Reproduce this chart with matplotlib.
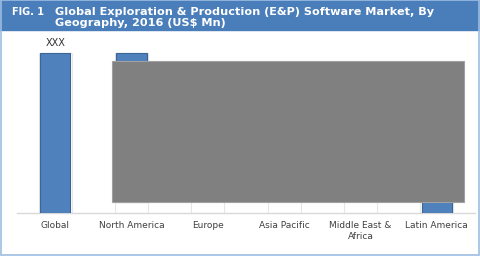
import matplotlib
matplotlib.use("Agg")
import matplotlib.pyplot as plt
from matplotlib.patches import Rectangle

regions = ['Global', 'North America', 'Europe', 'Asia Pacific', 'Middle East &\nAfrica', 'Latin America']
# values are masked in the source; estimated from visible bar tops
values = [100, 100, 60, 50, 35, 40]
# blue fill starts from this value (0 = full bar); NA is only blue above the mask
blue_from = [0, 6.9, None, None, None, 0]
top_label = 'XXX'

fig = plt.figure(figsize=(4.8, 2.56), dpi=100)
W, H = 480, 256

def fbox(x0, y0, x1, y1):
    # pixel box (top-left origin) -> figure fraction
    return (x0 / W, 1 - y1 / H, (x1 - x0) / W, (y1 - y0) / H)

# header band
l, b, w, h = fbox(0, 0, W, 30)
fig.patches.append(Rectangle((l, b), w, h, transform=fig.transFigure, color='#4a7ebb', zorder=0))
fig.text(12 / W, 1 - 12 / H, 'FIG. 1', color='white', fontsize=7, fontweight='bold', va='center')
fig.text(55 / W, 1 - 17.5 / H, 'Global Exploration & Production (E&P) Software Market, By\nGeography, 2016 (US$ Mn)',
         color='white', fontsize=8.1, fontweight='bold', va='center', linespacing=1.1)

# outer border
l, b, w, h = fbox(1, 0, 478.5, 254.5)
fig.patches.append(Rectangle((l, b), w, h, transform=fig.transFigure, fill=False,
                             edgecolor='#9dbde3', lw=1.2, zorder=0))

ax = fig.add_axes(fbox(17, 35, 475, 213))
xs = list(range(len(regions)))
for x, v, bf in zip(xs, values, blue_from):
    ax.bar(x, v, width=0.43, color='white', edgecolor='#e6e6e6', lw=0.8, zorder=2)
    if bf is not None:
        ax.bar(x, v - bf, bottom=bf, width=0.4, color='#4f81bd', edgecolor='#3b6593', lw=0.8, zorder=3)
ax.text(0, values[0] + 3, top_label, ha='center', va='bottom', fontsize=7, color='#333333')

ax.set_xlim(-0.5, len(regions) - 0.5)
ax.set_ylim(0, 111.25)
ax.set_xticks(xs)
ax.set_xticklabels(regions, fontsize=6.5, color='#404040', linespacing=1.3)
ax.tick_params(axis='x', length=0, pad=6)
ax.set_yticks([])
for s in ['top', 'left', 'right']:
    ax.spines[s].set_visible(False)
ax.spines['bottom'].set_color('#d9d9d9')
ax.spines['bottom'].set_linewidth(1)

# grey mask covering values
l, b, w, h = fbox(112, 61, 464, 202)
fig.patches.append(Rectangle((l, b), w, h, transform=fig.transFigure, facecolor='#808080',
                             edgecolor='#a0a0a0', lw=0.8, zorder=5))

fig.savefig('out.png', dpi=100)
